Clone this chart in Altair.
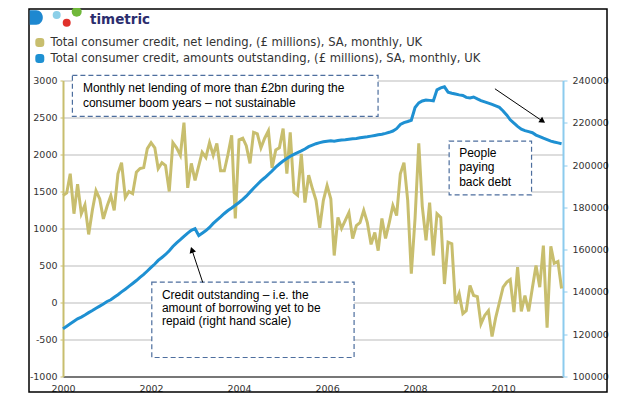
import altair as alt
import pandas as pd

# ---------------- data ----------------
net_lending = [
    1445, 1480, 1740, 1200, 1600, 1200, 1320, 920, 1250, 1510, 1400, 1130,
    1300, 1445, 1245, 1740, 1890, 1420, 1500, 1470, 1760, 1810, 1825, 2080,
    2160, 2090, 1810, 1890, 1850, 1500, 2160, 2090, 1990, 2430, 1550, 1880,
    1650, 1850, 2030, 1960, 2160, 1990, 2150, 1780, 1780, 2000, 2260, 1135,
    2200, 2220, 2120, 1880, 2300, 2280, 2090, 2220, 2320, 1820, 2060, 2090,
    2350, 1740, 2300, 1490, 1450, 2010, 1350, 1720, 1540, 1380, 1010, 1380,
    1580, 1400, 635, 1150, 1000, 1110, 1215, 865, 1040, 1080, 1245, 1080,
    785, 945, 700, 1135, 865, 1080, 1310, 1175, 1740, 1890, 1380, 390,
    1135, 2150, 1300, 840, 1350, 635, 1200, 1150, 250, 815, 795, -15,
    120, -150, -110, 230, 95, 80, -290, -175, -110, -460, -200, 0,
    207, 275, 310, -130, 477, -120, 95, -120, 200, 500, 207, 770,
    -340, 760, 530, 555, 190,
]
outstanding = [
    122600, 123800, 124900, 126100, 127300, 128100, 129100, 130200, 131200, 132300, 133300, 134300,
    135500, 136300, 137500, 138700, 140000, 141300, 142600, 144000, 145400, 146900, 148300, 149900,
    151600, 153200, 154900, 156300, 157700, 159500, 161500, 163200, 164700, 166300, 167800, 169100,
    169900, 166700, 167800, 169000, 170500, 172400, 174000, 175500, 177100, 178500, 179700, 181000,
    182300, 183800, 185300, 187200, 189000, 190800, 192500, 194000, 195600, 197200, 199000, 200500,
    201900, 203100, 204200, 205100, 205900, 206700, 207600, 208700, 209400, 210100, 210600, 211000,
    211300, 211500, 211300, 211600, 211900, 212000, 212200, 212400, 212600, 212900, 213200, 213400,
    213700, 214000, 214300, 214600, 215000, 215500, 216100, 217200, 219200, 220100, 220600, 221200,
    227200, 229400, 230300, 230800, 230600, 230400, 235600, 236500, 237000, 234500, 234000, 233600,
    233200, 232900, 232000, 231700, 232200, 231300, 230500, 229900, 229300, 228700, 228000, 227300,
    225600, 223600, 221400, 219800, 218300, 217000, 216300, 215800, 215300, 214200, 213500, 212700,
    212000, 211300, 210900, 210500, 210100,
]
months = pd.date_range("2000-01-01", periods=len(net_lending), freq="MS")

series_names = [
    "Total consumer credit, net lending, (£ millions), SA, monthly, UK",
    "Total consumer credit, amounts outstanding, (£ millions), SA, monthly, UK",
]
left_ticks = [-1000, -500, 0, 500, 1000, 1500, 2000, 2500, 3000]
right_ticks = [100000, 120000, 140000, 160000, 180000, 200000, 220000, 240000]
x_tick_years = [2000, 2002, 2004, 2006, 2008, 2010]

# annotation content (data coordinates: date, left-axis value)
box_x = ["2000-03-19", "2008-10-10", "2002-01-07"]
box_x2 = ["2007-02-28", "2010-08-25", "2006-08-13"]
box_y = [3068, 2180, 274]
box_y2 = [2514, 1455, -743]

note_text = [
    ["Monthly net lending of more than £2bn during the", "consumer boom years – not sustainable"],
    ["People", "paying", "back debt"],
    ["Credit outstanding – i.e. the", "amount of borrowing yet to be", "repaid (right hand scale)"],
]
note_x = ["2000-06-14", "2009-01-01", "2002-04-01"]
note_y = [2845, 1964, 50]
note_lh = [15, 14.2, 13.3]

arrow_from_x = ["2003-03-06", "2009-10-25"]
arrow_from_y = [270, 2888]
arrow_to_x = ["2002-12-06", "2010-11-25"]
arrow_to_y = [712, 2450]
arrow_angle = [341.6, 124.2]

OLIVE = "#c8be6e"
BLUE = "#1e90d2"
FONT = "DejaVu Sans"
ANN_FONT = "Liberation Sans"

net_df = pd.DataFrame({"month": months, "value": net_lending, "series": series_names[0]})
out_df = pd.DataFrame({"month": months, "value": outstanding, "series": series_names[1]})

x_scale = alt.Scale(domain=[alt.DateTime(year=2000, month=1, date=1),
                            alt.DateTime(year=2011, month=5, date=13)])
y_left_scale = alt.Scale(domain=[-1000, 3000], nice=False, zero=False)
color_scale = alt.Scale(domain=series_names, range=[OLIVE, BLUE])

ROUNDED = ("M-0.6,-1 L0.6,-1 Q1,-1 1,-0.6 L1,0.6 Q1,1 0.6,1 L-0.6,1 "
           "Q-1,1 -1,0.6 L-1,-0.6 Q-1,-1 -0.6,-1 Z")

legend = alt.Legend(
    title=None, orient="none", legendX=-29, legendY=-44,
    labelFont=FONT, labelFontSize=11.6, labelColor="#333333",
    symbolType=ROUNDED, symbolSize=16, symbolStrokeWidth=5,
    labelOffset=5, rowPadding=4, clipHeight=12, padding=0, labelLimit=600,
)

x_axis = alt.Axis(
    values=[alt.DateTime(year=y, month=1, date=1) for y in x_tick_years],
    format="%Y", title=None, grid=False, ticks=False,
    labelFont=FONT, labelFontSize=9.5, labelColor="#333333", labelPadding=7,
    domainColor="#555555", domainWidth=1.5, labelFlush=False,
)
left_axis = alt.Axis(
    values=left_ticks, title=None, grid=True, gridColor="#d2d2d2", gridWidth=1.5,
    domainColor=OLIVE, domainWidth=2, tickColor=OLIVE, tickSize=3,
    labelExpr="datum.value + ''",
    labelFont=FONT, labelFontSize=9.5, labelColor="#333333", labelPadding=3,
)
right_axis = alt.Axis(
    orient="right", values=right_ticks, format="d", title=None, grid=False,
    domainColor="#8ccbee", domainWidth=2, tickColor="#8ccbee", tickSize=4,
    labelFont=FONT, labelFontSize=9.5, labelColor="#333333", labelPadding=5,
)

net_line = alt.Chart(net_df).mark_line(strokeWidth=3, clip=False).encode(
    x=alt.X("month:T", scale=x_scale, axis=x_axis),
    y=alt.Y("value:Q", scale=y_left_scale, axis=left_axis),
    color=alt.Color("series:N", scale=color_scale, legend=legend, sort=series_names),
)

out_line = alt.Chart(out_df).mark_line(strokeWidth=3, clip=False).encode(
    x=alt.X("month:T", scale=x_scale, axis=x_axis),
    y=alt.Y("value:Q", scale=alt.Scale(domain=[100000, 240000], nice=False, zero=False), axis=right_axis),
    color=alt.Color("series:N", scale=color_scale, legend=legend, sort=series_names),
)

# annotation boxes
box_df = pd.DataFrame({"x": pd.to_datetime(box_x), "x2": pd.to_datetime(box_x2), "y": box_y, "y2": box_y2})
boxes = alt.Chart(box_df).mark_rect(
    fill="white", stroke="#4d6e9e", strokeWidth=1.2, strokeDash=[5, 3]
).encode(
    x=alt.X("x:T", scale=x_scale, axis=x_axis), x2="x2:T",
    y=alt.Y("y:Q", scale=y_left_scale, axis=left_axis), y2="y2:Q",
)

note_layers = []
for lines, nx, ny, lh in zip(note_text, note_x, note_y, note_lh):
    d = pd.DataFrame({"x": [pd.Timestamp(nx)], "y": [ny], "t": [lines]})
    note_layers.append(
        alt.Chart(d).mark_text(
            align="left", baseline="alphabetic", font=ANN_FONT, fontSize=12,
            color="#000000", lineHeight=lh,
        ).encode(
            x=alt.X("x:T", scale=x_scale, axis=x_axis),
            y=alt.Y("y:Q", scale=y_left_scale, axis=left_axis),
            text="t",
        )
    )

arrow_df = pd.DataFrame({
    "x": pd.to_datetime(arrow_from_x), "y": arrow_from_y,
    "x2": pd.to_datetime(arrow_to_x), "y2": arrow_to_y, "angle": arrow_angle,
})
arrow_lines = alt.Chart(arrow_df).mark_rule(color="black", strokeWidth=1).encode(
    x=alt.X("x:T", scale=x_scale, axis=x_axis), y=alt.Y("y:Q", scale=y_left_scale, axis=left_axis),
    x2="x2:T", y2="y2:Q",
)
arrow_heads = alt.Chart(arrow_df).mark_point(
    shape="triangle-up", filled=True, color="black", size=45, opacity=1
).encode(
    x=alt.X("x2:T", scale=x_scale, axis=x_axis), y=alt.Y("y2:Q", scale=y_left_scale, axis=left_axis),
    angle=alt.Angle("angle:Q", scale=None),
)

# frame and logo (decoration, pixel positions relative to the plot area)
one = alt.Data(values=[{"k": 1}])
frame = alt.Chart(one).mark_rect(fill="white", fillOpacity=0, stroke="black", strokeWidth=1.5).encode(
    x=alt.value(-34), x2=alt.value(544), y=alt.value(-71.5), y2=alt.value(311.5)
)
D_SHAPE = "M-1,-1 L-0.1,-1 A0.9,1 0 0 1 -0.1,1 L-1,1 Z"
logo_d = alt.Chart(one).mark_point(shape=D_SHAPE, filled=True, color="#1e88d0", size=210, opacity=1).encode(
    x=alt.value(-26), y=alt.value(-63)
)
logo_dot_x = [-6.3, 3.7, 13.7]
logo_dot_y = [-65.5, -57.8, -68.8]
logo_dot_c = ["#8ccfe8", "#e0312b", "#70b83a"]
logo_dot_s = [64, 64, 100]
logo_dots = [
    alt.Chart(one).mark_circle(color=c, size=s, opacity=1).encode(x=alt.value(px), y=alt.value(py))
    for px, py, c, s in zip(logo_dot_x, logo_dot_y, logo_dot_c, logo_dot_s)
]
logo_text = alt.Chart(one).mark_text(
    text="timetric", font=FONT, fontWeight="bold", fontSize=13.5, color="#2b2d6e",
    align="left", baseline="alphabetic"
).encode(x=alt.value(27), y=alt.value(-56.5))

inner = alt.layer(frame, net_line, boxes, *note_layers, arrow_lines, arrow_heads)
chart = alt.layer(inner, out_line, logo_d, *logo_dots, logo_text).resolve_scale(
    y="independent"
).properties(
    width=500, height=296,
    autosize=alt.AutoSizeParams(type="none"),
    padding={"left": 55, "top": 72.5, "right": 72, "bottom": 22},
    background="white",
).configure_view(stroke=None)

chart.save("out.html", embed_options={"renderer": "svg", "actions": False})
